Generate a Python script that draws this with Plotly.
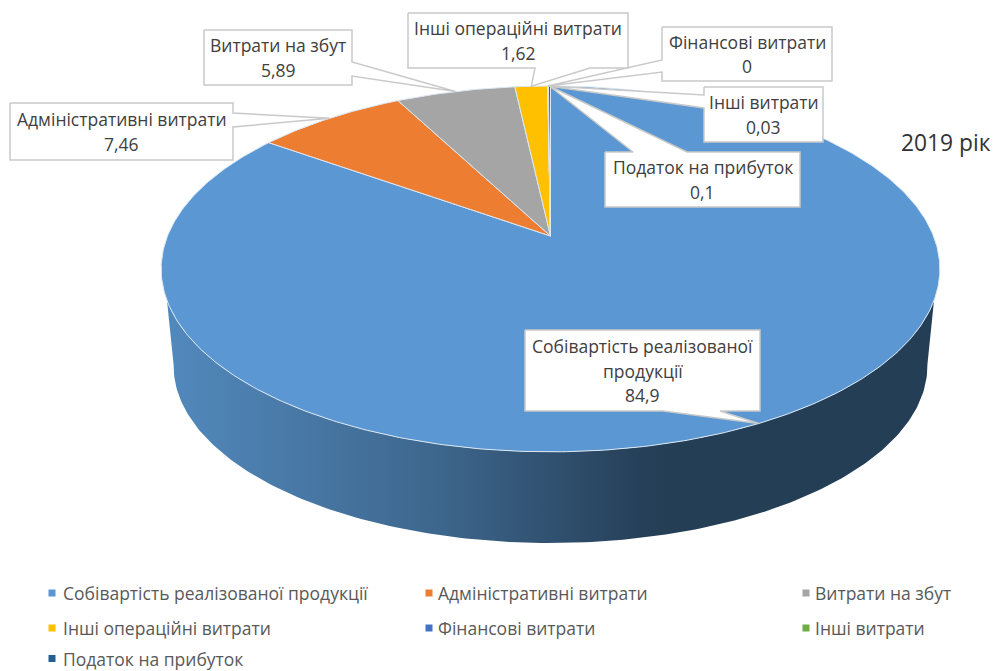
import numpy as np
import plotly.graph_objects as go

categories = ["Собівартість реалізованої продукції", "Адміністративні витрати", "Витрати на збут",
              "Інші операційні витрати", "Фінансові витрати", "Інші витрати", "Податок на прибуток"]
values = [84.9, 7.46, 5.89, 1.62, 0, 0.03, 0.1]
value_labels = ["84,9", "7,46", "5,89", "1,62", "0", "0,03", "0,1"]
colors = ["#5B97D3", "#ED7D31", "#A5A5A5", "#FFC000", "#4472C4", "#70AD47", "#255E91"]
chart_title = "2019 рік"

# Perspective projection of the pie disc onto the page (pixels)
CX, CY, A, B, K = 550.5, 236.0, 383.0, 177.0, 0.18
DEPTH, BOTTOM_SCALE = 98.0, 0.968
LABEL_LINE = 24.8


def project(theta, r=1.0, scale=1.0, dy=0.0):
    X, Y = r * np.sin(theta), r * np.cos(theta)
    d = 1 + K * Y
    return CX + scale * A * X / d, CY + dy - scale * B * Y / d


fig = go.Figure()

# Side wall (front part of the rim)
x1, y1 = project(np.radians(np.linspace(110, 250, 200)))
x2, y2 = project(np.radians(np.linspace(100, 260, 200)), scale=BOTTOM_SCALE, dy=DEPTH)
fig.add_trace(go.Scatter(
    x=np.r_[x1, x2[::-1]], y=np.r_[y1, y2[::-1]], mode="lines", line=dict(width=0),
    fill="toself", hoverinfo="skip", showlegend=False,
    fillgradient=dict(type="horizontal", colorscale=[
        [0, "#5289BD"], [0.358, "#3D668C"], [0.616, "#264059"], [0.668, "#243E55"], [1, "#243E55"]]),
))

# Top slices, drawn from the values
cum = np.r_[0, np.cumsum(values)] / np.sum(values) * 2 * np.pi
for name, c, a0, a1 in zip(categories, colors, cum[:-1], cum[1:]):
    th = np.linspace(a0, a1, max(2, int((a1 - a0) * 90)))
    ex, ey = project(th)
    fig.add_trace(go.Scatter(
        x=np.r_[CX, ex, CX], y=np.r_[CY, ey, CY], mode="lines", name=name,
        line=dict(color="#DCE8F4", width=1), fillcolor=c, fill="toself", showlegend=False,
    ))

# Data-label callouts: box (x0, y0, x1, y1) and wedge base on the box edge
callouts = [
    dict(box=(525, 330, 760, 411), edge="bottom", base=(663, 720)),
    dict(box=(10, 103, 233, 160), edge="right", base=(113, 127)),
    dict(box=(204, 30, 352, 85), edge="right", base=(62, 76)),
    dict(box=(408, 13, 628, 68), edge="bottom", base=(535, 590)),
    dict(box=(662, 27, 832, 81), edge="left", base=(60, 72)),
    dict(box=(704, 87, 823, 142), edge="left", base=(95, 108)),
    dict(box=(605, 152, 800, 207), edge="top", base=(633, 687)),
]
mids = (cum[:-1] + cum[1:]) / 2
for i in [5, 6, 4, 3, 2, 1, 0]:
    co = callouts[i]
    x0, y0, x1, y1 = co["box"]
    px, py = project(mids[i])
    p, q = co["base"]
    if co["edge"] == "bottom":
        xs = [x0, x1, x1, q, float(px), p, x0, x0]
        ys = [y0, y0, y1, y1, float(py), y1, y1, y0]
    elif co["edge"] == "top":
        xs = [x0, p, float(px), q, x1, x1, x0, x0]
        ys = [y0, y0, float(py), y0, y0, y1, y1, y0]
    elif co["edge"] == "right":
        xs = [x0, x1, x1, float(px), x1, x1, x0, x0]
        ys = [y0, y0, p, float(py), q, y1, y1, y0]
    else:
        xs = [x0, x1, x1, x0, x0, float(px), x0, x0]
        ys = [y0, y0, y1, y1, q, float(py), p, y0]
    fig.add_trace(go.Scatter(x=xs, y=ys, mode="lines", line=dict(color="#C9C9C9", width=1.5),
                             fill="toself", fillcolor="white", hoverinfo="skip", showlegend=False))
    lines = [categories[i], value_labels[i]]
    if i == 0:
        lines = ["Собівартість реалізованої", "продукції", value_labels[i]]
    for k, line in enumerate(lines):
        fig.add_annotation(x=(x0 + x1) / 2, y=(y0 + y1) / 2 + (k - (len(lines) - 1) / 2) * LABEL_LINE,
                           text=line, showarrow=False,
                           font=dict(family="Open Sans", size=17.5, color="#404040"),
                           align="center", xanchor="center", yanchor="middle")

# Legend keys
legend_cols = [52, 429, 806]
legend_text_cols = [63, 438, 815]
legend_rows = [593, 628, 658.5]
for i, (name, c) in enumerate(zip(categories, colors)):
    lx, ly = legend_cols[i % 3], legend_rows[i // 3]
    fig.add_trace(go.Scatter(x=[lx], y=[ly], mode="markers", hoverinfo="skip", showlegend=False,
                             marker=dict(symbol="square", size=7, color=c)))
    fig.add_annotation(x=legend_text_cols[i % 3], y=ly, text=name, showarrow=False, xanchor="left",
                       yanchor="middle", borderpad=0, borderwidth=0,
                       font=dict(family="Open Sans", size=17.5, color="#595959"))

fig.add_annotation(x=899, y=142, text=chart_title, showarrow=False, xanchor="left", yanchor="middle",
                   font=dict(family="Open Sans", size=22.8, color="#333333"))

fig.update_layout(
    width=993, height=671, margin=dict(l=0, r=0, t=0, b=0), paper_bgcolor="white", plot_bgcolor="white",
    xaxis=dict(range=[0, 993], visible=False, fixedrange=True),
    yaxis=dict(range=[671, 0], visible=False, fixedrange=True),
    showlegend=False,
)
fig.write_html("out.html", config=dict(displayModeBar=False),
               post_script="document.body.style.margin='0';document.body.style.overflow='hidden';")
